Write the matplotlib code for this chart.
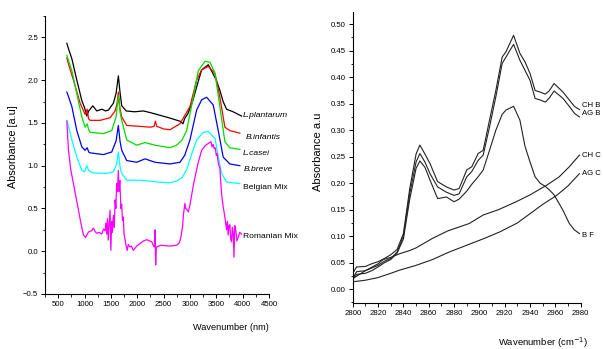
import matplotlib
matplotlib.use('Agg')
import matplotlib.pyplot as plt
from matplotlib.ticker import MultipleLocator, FormatStrFormatter

FONT = ['Liberation Sans', 'DejaVu Sans']

# ---------------- Left panel data ----------------
plant_x = [665, 700, 760, 854, 949, 1000, 1043, 1080, 1157, 1233, 1330, 1400, 1453, 1548, 1600, 1642, 1675,
           1706, 1790, 1950, 2116, 2250, 2369, 2600, 2811, 2850, 2868, 2900, 2962, 3050, 3127, 3222, 3348,
           3442, 3500, 3568, 3630, 3695, 3820, 3979]
plant_y = [2.43, 2.36, 2.25, 2.0, 1.76, 1.68, 1.58, 1.64, 1.70, 1.64, 1.66, 1.64, 1.65, 1.73, 1.85, 2.05, 1.85,
           1.70, 1.64, 1.63, 1.64, 1.62, 1.60, 1.56, 1.52, 1.50, 1.49, 1.55, 1.61, 1.75, 1.92, 2.12, 2.18,
           2.07, 2.0, 1.88, 1.75, 1.66, 1.63, 1.58]

infant_x = [665, 700, 790, 917, 1011, 1050, 1075, 1106, 1295, 1485, 1580, 1615, 1642, 1670, 1706, 1801, 2053,
            2242, 2320, 2345, 2370, 2500, 2621, 2811, 3000, 3127, 3222, 3348, 3475, 3568, 3663, 3758, 3947]
infant_y = [2.26, 2.18, 2.0, 1.73, 1.60, 1.66, 1.55, 1.53, 1.53, 1.56, 1.64, 1.72, 1.86, 1.68, 1.57, 1.47, 1.46,
            1.45, 1.46, 1.52, 1.46, 1.43, 1.42, 1.49, 1.69, 2.0, 2.12, 2.16, 2.08, 1.80, 1.45, 1.41, 1.38]

casei_x = [665, 700, 760, 854, 949, 1011, 1050, 1080, 1106, 1358, 1516, 1599, 1642, 1675, 1706, 1801, 1990,
           2148, 2337, 2621, 2748, 2850, 2937, 3064, 3159, 3285, 3379, 3475, 3568, 3663, 3758, 3947]
casei_y = [2.29, 2.22, 2.11, 1.84, 1.57, 1.45, 1.49, 1.42, 1.39, 1.375, 1.41, 1.57, 1.82, 1.62, 1.53, 1.30, 1.24,
           1.27, 1.24, 1.21, 1.24, 1.30, 1.41, 1.80, 2.11, 2.22, 2.21, 2.08, 1.69, 1.28, 1.21, 1.19]

breve_x = [665, 700, 760, 854, 949, 1011, 1050, 1080, 1106, 1358, 1516, 1599, 1642, 1675, 1706, 1801, 1990,
           2148, 2337, 2621, 2811, 2900, 3000, 3127, 3222, 3316, 3442, 3537, 3631, 3758, 3947]
breve_y = [1.86, 1.80, 1.69, 1.41, 1.22, 1.18, 1.21, 1.16, 1.15, 1.13, 1.16, 1.29, 1.47, 1.28, 1.18, 1.06, 1.04,
           1.08, 1.04, 1.02, 1.04, 1.12, 1.30, 1.65, 1.77, 1.80, 1.71, 1.41, 1.10, 1.02, 1.00]

belg_x = [665, 700, 760, 854, 949, 1000, 1043, 1080, 1168, 1421, 1548, 1610, 1642, 1675, 1706, 1801, 2053,
          2242, 2370, 2621, 2748, 2850, 2937, 3030, 3127, 3253, 3348, 3475, 3540, 3600, 3695, 3947]
belg_y = [1.53, 1.45, 1.30, 1.10, 0.945, 0.93, 1.0, 0.94, 0.915, 0.91, 0.93, 1.02, 1.16, 0.98, 0.91, 0.83, 0.83,
          0.82, 0.81, 0.80, 0.82, 0.86, 0.95, 1.13, 1.30, 1.39, 1.40, 1.32, 1.10, 0.91, 0.81, 0.79]

rom_x = [665, 695, 740, 790, 885, 940, 980, 1020, 1074, 1137, 1168, 1200, 1232, 1280, 1327, 1360, 1390, 1405,
         1421, 1435, 1450, 1465, 1485, 1500, 1515, 1530, 1548, 1565, 1580, 1595, 1610, 1625, 1642, 1655, 1670,
         1690, 1705, 1720, 1735, 1750, 1770, 1790, 1810, 1830, 1860, 1890, 1925, 1990, 2053, 2120, 2180, 2275,
         2320, 2335, 2340, 2345, 2350, 2360, 2370, 2450, 2621, 2748, 2800, 2830, 2862, 2875, 2905, 2918, 2937,
         2970, 3000, 3064, 3150, 3222, 3300, 3348, 3400, 3420, 3442, 3460, 3480, 3500, 3517, 3540, 3568, 3600,
         3631, 3663, 3695, 3710, 3726, 3742, 3758, 3774, 3790, 3805, 3820, 3835, 3850, 3870, 3890, 3915, 3945,
         3979]
rom_y = [1.52, 1.18, 0.95, 0.79, 0.48, 0.30, 0.19, 0.16, 0.225, 0.24, 0.27, 0.23, 0.21, 0.22, 0.20, 0.26, 0.24,
         0.33, 0.20, 0.38, 0.13, 0.30, 0.48, 0.01, 0.35, 0.22, 0.42, 0.28, 0.60, 0.50, 0.79, 0.70, 0.945, 0.70,
         0.83, 0.50, 0.55, 0.36, 0.40, 0.20, 0.13, 0.06, 0.01, 0.08, 0.05, 0.06, 0.01, 0.06, 0.09, 0.12, 0.135,
         0.11, 0.05, 0.10, 0.25, 0.0, -0.16, 0.03, 0.05, 0.07, 0.06, 0.07, 0.10, 0.17, 0.30, 0.42, 0.56, 0.50,
         0.49, 0.46, 0.54, 0.77, 1.02, 1.18, 1.24, 1.26, 1.28, 1.22, 1.25, 1.20, 1.21, 1.12, 1.14, 1.02, 0.97,
         0.67, 0.52, 0.40, 0.25, 0.35, 0.19, 0.30, 0.31, 0.14, 0.11, 0.28, 0.22, -0.07, 0.30, 0.25, 0.12, 0.16,
         0.22, 0.20]

left_series = [
    (plant_x, plant_y, 'black', 'L.plantarum', 1.59, 4010, 'italic'),
    (infant_x, infant_y, 'red', 'B.infantis', 1.33, 4060, 'italic'),
    (casei_x, casei_y, '#00dd00', 'L.casei', 1.14, 4010, 'italic'),
    (breve_x, breve_y, '#0000ee', 'B.breve', 0.96, 4020, 'italic'),
    (belg_x, belg_y, '#00ffff', 'Belgian Mix', 0.74, 4010, 'normal'),
    (rom_x, rom_y, '#ff00ff', 'Romanian Mix', 0.17, 4010, 'normal'),
]

# ---------------- Right panel data ----------------
b_x = [2800, 2803, 2810, 2815, 2820, 2825, 2830, 2835, 2840, 2845, 2850, 2853, 2857, 2861, 2867, 2874, 2880,
       2884, 2890, 2894, 2899, 2903, 2908, 2913, 2918, 2921, 2927, 2932, 2936, 2940, 2944, 2948, 2952, 2955,
       2959, 2966, 2971, 2975, 2979]
chb_y = [0.03, 0.042, 0.043, 0.048, 0.052, 0.058, 0.065, 0.075, 0.105, 0.19, 0.255, 0.272, 0.255, 0.237, 0.203,
         0.193, 0.187, 0.19, 0.225, 0.231, 0.256, 0.262, 0.319, 0.375, 0.438, 0.448, 0.479, 0.445, 0.429, 0.407,
         0.375, 0.372, 0.368, 0.374, 0.388, 0.372, 0.357, 0.345, 0.339]
agb_y = [0.02, 0.033, 0.035, 0.04, 0.045, 0.053, 0.058, 0.07, 0.10, 0.18, 0.24, 0.256, 0.24, 0.218, 0.193,
         0.183, 0.177, 0.18, 0.212, 0.222, 0.243, 0.253, 0.306, 0.363, 0.426, 0.438, 0.462, 0.432, 0.413, 0.394,
         0.36, 0.357, 0.353, 0.36, 0.374, 0.36, 0.345, 0.332, 0.325]
bf_y = [0.018, 0.028, 0.03, 0.035, 0.042, 0.05, 0.056, 0.068, 0.095, 0.17, 0.228, 0.242, 0.23, 0.206, 0.171,
        0.174, 0.165, 0.17, 0.185, 0.198, 0.212, 0.225, 0.262, 0.30, 0.33, 0.338, 0.345, 0.319, 0.27, 0.24,
        0.212, 0.20, 0.194, 0.188, 0.178, 0.149, 0.124, 0.112, 0.105]

chc_x = [2800, 2810, 2820, 2824, 2830, 2837, 2845, 2850, 2863, 2875, 2892, 2903, 2915, 2929, 2940, 2953, 2963,
         2971, 2979]
chc_y = [0.02, 0.035, 0.048, 0.056, 0.06, 0.067, 0.073, 0.078, 0.096, 0.11, 0.124, 0.14, 0.15, 0.165, 0.178,
         0.196, 0.212, 0.231, 0.253]
agc_x = [2800, 2810, 2820, 2830, 2837, 2850, 2863, 2876, 2890, 2903, 2916, 2930, 2942, 2950, 2961, 2970, 2979]
agc_y = [0.014, 0.017, 0.022, 0.03, 0.036, 0.045, 0.056, 0.07, 0.083, 0.095, 0.108, 0.125, 0.146, 0.16, 0.177,
         0.195, 0.218]

right_labels = [('CH B', 0.347), ('AG B', 0.332), ('CH C', 0.253), ('AG C', 0.218), ('B F', 0.102)]

# ---------------- Figure ----------------
fig = plt.figure(figsize=(6.03, 3.49), dpi=100)
axL = fig.add_axes([0.0746, 0.1576, 0.3715, 0.7966])
axR = fig.add_axes([0.585, 0.1318, 0.378, 0.8338])

TICK_FS = 5.6

for ax in (axL, axR):
    ax.spines['top'].set_visible(False)
    ax.spines['right'].set_visible(False)
    ax.spines['left'].set_linewidth(0.8)
    ax.spines['bottom'].set_linewidth(0.8)
    ax.tick_params(which='major', direction='out', length=3, width=0.7, labelsize=TICK_FS, pad=2)
    ax.tick_params(which='minor', direction='out', length=1.8, width=0.6)

# Left panel
for xs, ys, col, name, ly, lx, style in left_series:
    axL.plot(xs, ys, color=col, lw=0.9)
    axL.text(lx, ly, name, color='black', fontsize=6.1, style=style, family=FONT,
             va='center', ha='left', clip_on=False)
axL.set_xlim(250, 4500)
axL.set_ylim(-0.5, 2.75)
axL.set_xticks([500, 1000, 1500, 2000, 2500, 3000, 3500, 4000, 4500])
axL.set_yticks([-0.5, 0.0, 0.5, 1.0, 1.5, 2.0, 2.5])
axL.xaxis.set_minor_locator(MultipleLocator(250))
axL.yaxis.set_minor_locator(MultipleLocator(0.25))
for lab in axL.get_xticklabels() + axL.get_yticklabels():
    lab.set_family(FONT)
axL.set_xlabel('Wavenumber (nm)', fontsize=6.6, family=FONT, ha='right', va='center')
axL.xaxis.set_label_coords(1.0, -0.122)
axL.set_ylabel('Absorbance [a.u]', fontsize=7.8, family=FONT, va='center')
axL.yaxis.set_label_coords(-0.143, 0.53)

# Right panel
for ys in (chb_y, agb_y, bf_y):
    axR.plot(b_x, ys, color='#222222', lw=0.8)
axR.plot(chc_x, chc_y, color='#222222', lw=0.8)
axR.plot(agc_x, agc_y, color='#222222', lw=0.8)
for name, ly in right_labels:
    axR.text(2981, ly, name, fontsize=5.6, family=FONT, va='center', ha='left', clip_on=False)
axR.set_xlim(2800, 2980)
axR.set_ylim(-0.026, 0.523)
axR.set_xticks(list(range(2800, 2981, 20)))
axR.xaxis.set_minor_locator(MultipleLocator(10))
axR.set_yticks([0.00, 0.05, 0.10, 0.15, 0.20, 0.25, 0.30, 0.35, 0.40, 0.45, 0.50])
axR.yaxis.set_major_formatter(FormatStrFormatter('%.2f'))
axR.yaxis.set_minor_locator(MultipleLocator(0.025))
for lab in axR.get_xticklabels() + axR.get_yticklabels():
    lab.set_family(FONT)
axR.set_xlabel('Wavenumber (cm$^{-1}$)', fontsize=6.8, family=FONT, ha='right', va='center')
axR.xaxis.set_label_coords(1.03, -0.137)
axR.set_ylabel('Absorbance a.u', fontsize=8, family=FONT, va='center')
axR.yaxis.set_label_coords(-0.154, 0.52)

fig.savefig('out.png', dpi=100)
